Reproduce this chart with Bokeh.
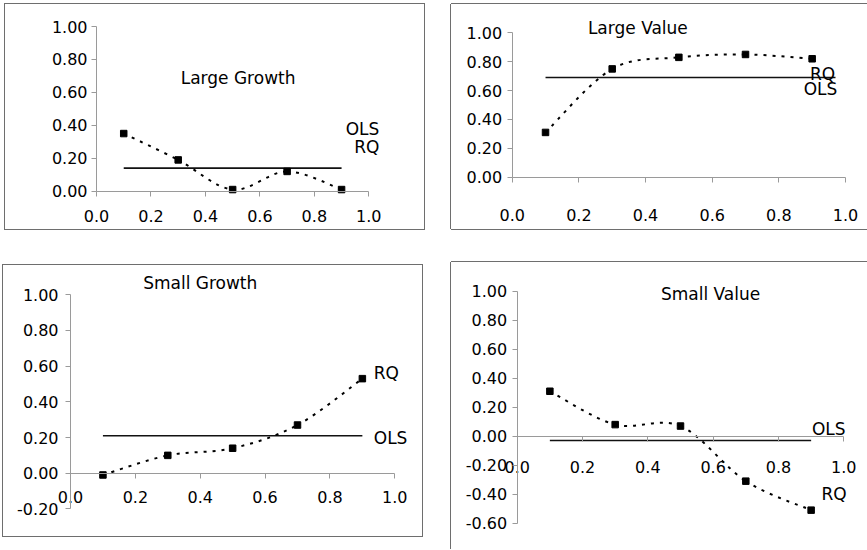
from bokeh.plotting import figure
from bokeh.models import Range1d, FixedTicker, NumeralTickFormatter, Label
from bokeh.layouts import column, row
from bokeh.embed import file_html
from bokeh.resources import INLINE

# ---------------- data ----------------
quantiles = [0.1, 0.3, 0.5, 0.7, 0.9]
x_ticks = [0.0, 0.2, 0.4, 0.6, 0.8, 1.0]

large_growth_rq = [0.35, 0.19, 0.01, 0.12, 0.01]
large_growth_ols = 0.14
large_value_rq = [0.31, 0.75, 0.83, 0.85, 0.82]
large_value_ols = 0.69
small_growth_rq = [-0.01, 0.10, 0.14, 0.27, 0.53]
small_growth_ols = 0.21
small_value_rq = [0.31, 0.08, 0.07, -0.31, -0.51]
small_value_ols = -0.03

ols_span_default = [0.1, 0.9]
ols_span_large_value = [0.1, 0.97]

y_ticks_large = [0.0, 0.2, 0.4, 0.6, 0.8, 1.0]
y_ticks_small_growth = [-0.2, 0.0, 0.2, 0.4, 0.6, 0.8, 1.0]
y_ticks_small_value = [-0.6, -0.4, -0.2, 0.0, 0.2, 0.4, 0.6, 0.8, 1.0]

FONT = "DejaVu Sans"
AXIS_GRAY = "#9a9a9a"
BOX_GRAY = "#6e6e6e"


def smooth_segments(xs, ys):
    """Bezier control points (Excel-style smoothed line) through the data."""
    n = len(xs)
    out = {k: [] for k in ("x0", "y0", "x1", "y1", "cx0", "cy0", "cx1", "cy1")}
    for i in range(n - 1):
        p0 = (xs[max(i - 1, 0)], ys[max(i - 1, 0)])
        p1 = (xs[i], ys[i])
        p2 = (xs[i + 1], ys[i + 1])
        p3 = (xs[min(i + 2, n - 1)], ys[min(i + 2, n - 1)])
        out["x0"].append(p1[0]); out["y0"].append(p1[1])
        out["x1"].append(p2[0]); out["y1"].append(p2[1])
        out["cx0"].append(p1[0] + (p2[0] - p0[0]) / 6.0)
        out["cy0"].append(p1[1] + (p2[1] - p0[1]) / 6.0)
        out["cx1"].append(p2[0] - (p3[0] - p1[0]) / 6.0)
        out["cy1"].append(p2[1] - (p3[1] - p1[1]) / 6.0)
    return out


def panel(rq, ols, ols_span, y_ticks, title, title_xy, texts, geom,
          x_standoff, y_standoff, margin, shadow):
    # geom: canvas left/top/width/height and pixel positions of x=0, x=1, y=0, y=1
    L, T, W, H, X0, X1, Y0, Y1 = geom
    sx = X1 - X0
    sy = Y0 - Y1
    xr = Range1d((L - X0) / sx, (L + W - X0) / sx)
    yr = Range1d((Y0 - (T + H)) / sy, (Y0 - T) / sy)
    p = figure(width=W, height=H, output_backend="svg", toolbar_location=None,
               x_range=xr, y_range=yr,
               min_border_left=0, min_border_right=0,
               min_border_top=0, min_border_bottom=0,
               background_fill_color="white", border_fill_color="white",
               margin=margin)
    p.outline_line_color = None
    p.grid.visible = False
    p.styles = {"box-shadow": shadow}

    p.xaxis.fixed_location = 0
    p.yaxis.fixed_location = 0
    p.xaxis.bounds = (0, 1)
    p.yaxis.bounds = (y_ticks[0], y_ticks[-1])
    p.xaxis.ticker = FixedTicker(ticks=x_ticks)
    p.yaxis.ticker = FixedTicker(ticks=y_ticks)
    p.xaxis.formatter = NumeralTickFormatter(format="0.0")
    p.yaxis.formatter = NumeralTickFormatter(format="0.00")
    for ax in (p.xaxis, p.yaxis):
        ax.axis_line_color = AXIS_GRAY
        ax.axis_line_width = 1
        ax.major_tick_line_color = AXIS_GRAY
        ax.major_tick_out = 5
        ax.major_tick_in = 0
        ax.minor_tick_line_color = None
        ax.major_label_text_font = FONT
        ax.major_label_text_font_size = "16px"
        ax.major_label_text_color = "black"
    p.xaxis.major_label_standoff = x_standoff
    p.yaxis.major_label_standoff = y_standoff

    # OLS horizontal line
    p.line(ols_span, [ols, ols], line_color="#111111", line_width=1.6)
    # RQ smoothed dotted line
    seg = smooth_segments(quantiles, rq)
    p.bezier(x0=seg["x0"], y0=seg["y0"], x1=seg["x1"], y1=seg["y1"],
             cx0=seg["cx0"], cy0=seg["cy0"], cx1=seg["cx1"], cy1=seg["cy1"],
             line_color="black", line_width=2, line_dash="3 6")
    p.scatter(quantiles, rq, marker="square", size=6.5, color="black")

    p.add_layout(Label(x=title_xy[0], y=title_xy[1], text=title,
                       text_font=FONT, text_font_size="17px", text_color="black",
                       text_align="center", text_baseline="middle"))
    for (tx, ty, tt) in texts:
        p.add_layout(Label(x=tx, y=ty, text=tt, text_font=FONT,
                           text_font_size="17px", text_color="black",
                           text_align="center", text_baseline="middle"))
    return p


full_box = f"0 0 0 1px {BOX_GRAY}"
open_right = f"-1px 0 0 0 {BOX_GRAY}, 0 -1px 0 0 {BOX_GRAY}, 0 1px 0 0 {BOX_GRAY}"
open_right_bottom = f"-1px 0 0 0 {BOX_GRAY}, 0 -1px 0 0 {BOX_GRAY}"

p1 = panel(large_growth_rq, large_growth_ols, ols_span_default, y_ticks_large,
           "Large Growth", (0.52, 0.69),
           [(0.977, 0.375, "OLS"), (0.993, 0.27, "RQ")],
           (5, 4, 419, 225, 96, 368.3, 190.7, 26),
           14, 4, (0, 0, 0, 2), full_box)
p2 = panel(large_value_rq, large_value_ols, ols_span_large_value, y_ticks_large,
           "Large Value", (0.377, 1.033),
           [(0.931, 0.718, "RQ"), (0.925, 0.614, "OLS")],
           (451, 4, 416, 225, 511.7, 845, 176.7, 32.3),
           27, 5, (0, 0, 0, 27), open_right)
p3 = panel(small_growth_rq, small_growth_ols, ols_span_default, y_ticks_small_growth,
           "Small Growth", (0.40, 1.067),
           [(0.974, 0.559, "RQ"), (0.987, 0.20, "OLS")],
           (3, 265, 419, 271, 70, 394.3, 472.7, 294.3),
           13, 7, (36, 0, 0, 0), full_box)
p4 = panel(small_value_rq, small_value_ols, ols_span_default, y_ticks_small_value,
           "Small Value", (0.592, 0.979),
           [(0.954, 0.053, "OLS"), (0.97, -0.40, "RQ")],
           (451, 262, 416, 287, 516.7, 843.3, 435.7, 290.7),
           20, 5, (33, 0, 0, 29), open_right_bottom)

layout = column(row(p1, p2), row(p3, p4), margin=(4, 0, 0, 3))

open("out.html", "w").write(file_html(layout, INLINE))
